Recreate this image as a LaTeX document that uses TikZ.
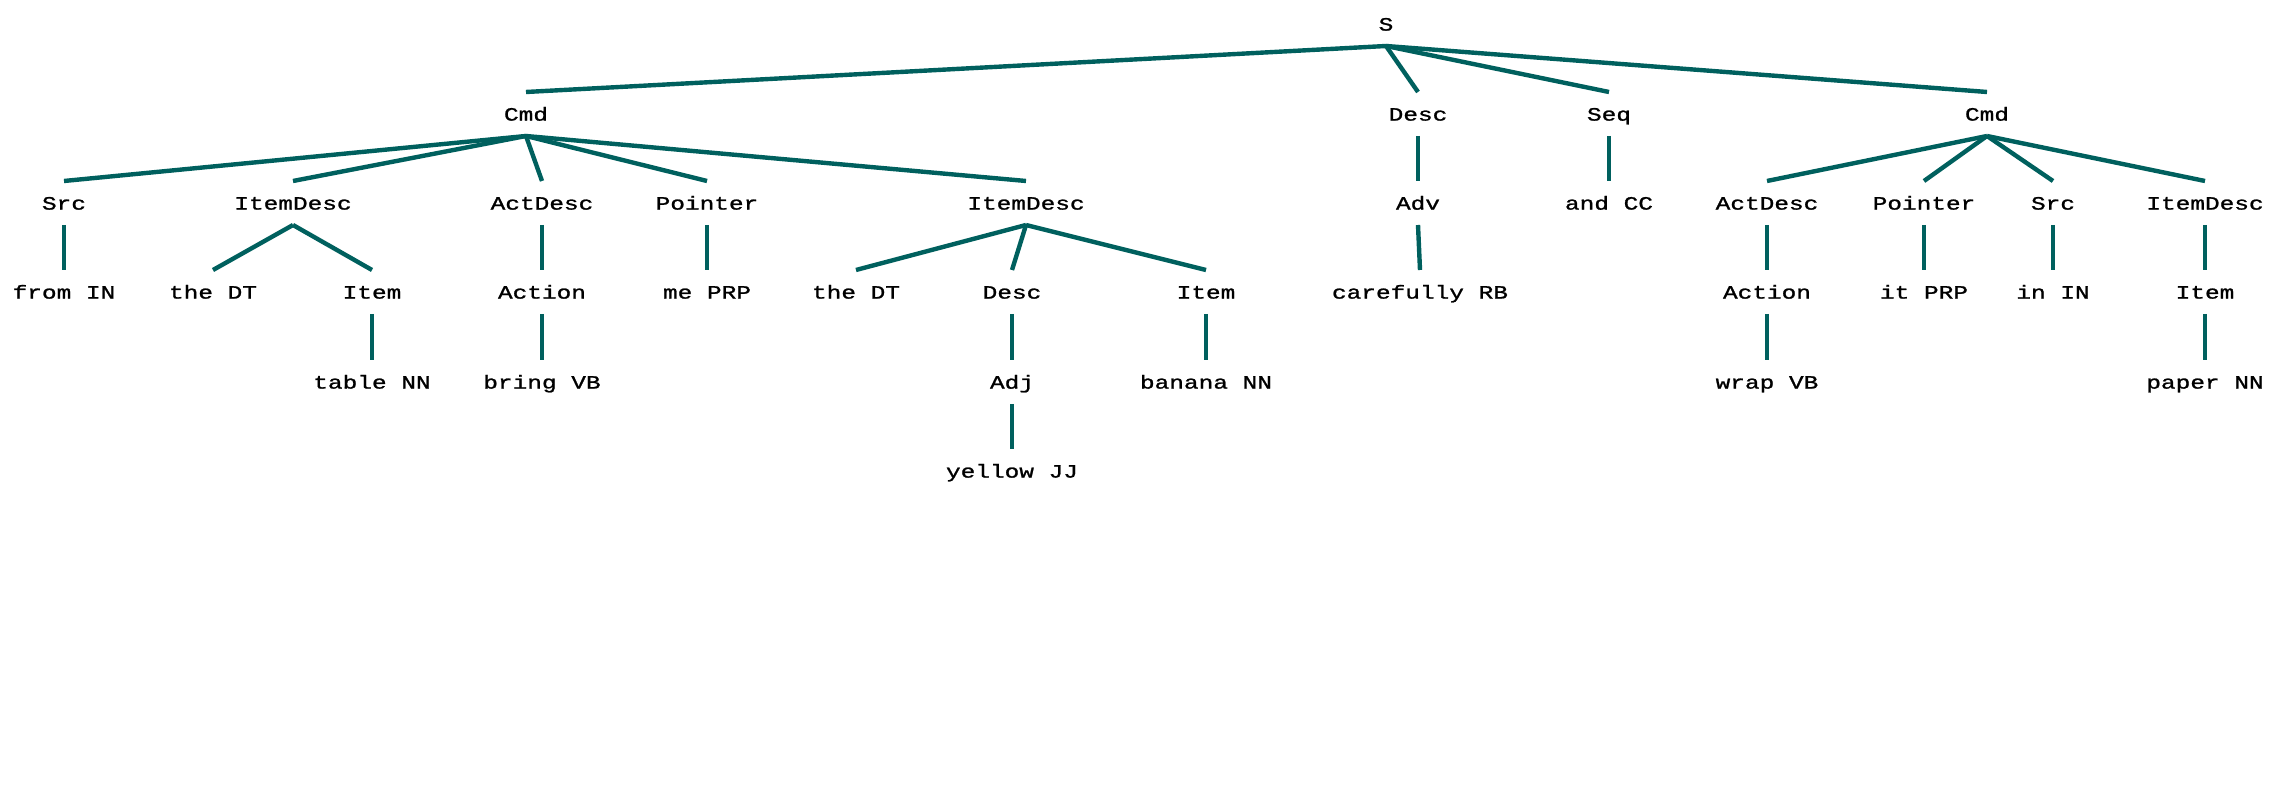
\documentclass[tikz,border=0pt]{standalone}
\usepackage{fontspec}
\newfontfamily\pixfont[FakeStretch=1.3,FakeBold=1.2]{Liberation Mono}
\definecolor{edge}{RGB}{0,96,94}
\tikzset{
  lbl/.style={inner sep=0pt, text height=5.6pt, text depth=0pt, font=\pixfont\fontsize{9.4pt}{10pt}\selectfont, text=black},
  br/.style={draw=edge, line width=2.2pt}
}
\newcommand{\br}[2]{\draw[br] ([yshift=-10.5pt]#1.center) -- ([yshift=11.5pt]#2.center);}
\begin{document}
\begin{tikzpicture}[x=0.5pt,y=-0.5pt]
\useasboundingbox (0,0) rectangle (2292,795);
% row 0
\node[lbl] (S) at (1386,25) {S};
% row 1
\node[lbl] (cmdA) at (526,115) {Cmd};
\node[lbl] (descA) at (1418,115) {Desc};
\node[lbl] (seq) at (1609,115) {Seq};
\node[lbl] (cmdB) at (1987,115) {Cmd};
% row 2
\node[lbl] (srcA) at (64,204) {Src};
\node[lbl] (idA) at (293,204) {ItemDesc};
\node[lbl] (adA) at (542,204) {ActDesc};
\node[lbl] (ptA) at (707,204) {Pointer};
\node[lbl] (idB) at (1026,204) {ItemDesc};
\node[lbl] (adv) at (1418,204) {Adv};
\node[lbl] (andcc) at (1609,204) {and CC};
\node[lbl] (adB) at (1767,204) {ActDesc};
\node[lbl] (ptB) at (1924,204) {Pointer};
\node[lbl] (srcB) at (2053,204) {Src};
\node[lbl] (idC) at (2205,204) {ItemDesc};
% row 3
\node[lbl] (fromin) at (64,293) {from IN};
\node[lbl] (dtA) at (213,293) {the DT};
\node[lbl] (itemA) at (372,293) {Item};
\node[lbl] (actA) at (542,293) {Action};
\node[lbl] (me) at (707,293) {me PRP};
\node[lbl] (dtB) at (856,293) {the DT};
\node[lbl] (descB) at (1012,293) {Desc};
\node[lbl] (itemB) at (1206,293) {Item};
\node[lbl] (carefully) at (1420,293) {carefully RB};
\node[lbl] (actB) at (1767,293) {Action};
\node[lbl] (it) at (1924,293) {it PRP};
\node[lbl] (inin) at (2053,293) {in IN};
\node[lbl] (itemC) at (2205,293) {Item};
% row 4
\node[lbl] (table) at (372,383) {table NN};
\node[lbl] (bring) at (542,383) {bring VB};
\node[lbl] (adj) at (1012,383) {Adj};
\node[lbl] (banana) at (1206,383) {banana NN};
\node[lbl] (wrap) at (1767,383) {wrap VB};
\node[lbl] (paper) at (2205,383) {paper NN};
% row 5
\node[lbl] (yellow) at (1012,472) {yellow JJ};
% edges
\br{S}{cmdA}\br{S}{descA}\br{S}{seq}\br{S}{cmdB}
\br{cmdA}{srcA}\br{cmdA}{idA}\br{cmdA}{adA}\br{cmdA}{ptA}\br{cmdA}{idB}
\br{descA}{adv}\br{seq}{andcc}
\br{cmdB}{adB}\br{cmdB}{ptB}\br{cmdB}{srcB}\br{cmdB}{idC}
\br{srcA}{fromin}\br{idA}{dtA}\br{idA}{itemA}\br{adA}{actA}\br{ptA}{me}
\br{idB}{dtB}\br{idB}{descB}\br{idB}{itemB}
\br{adv}{carefully}
\br{adB}{actB}\br{ptB}{it}\br{srcB}{inin}\br{idC}{itemC}
\br{itemA}{table}\br{actA}{bring}\br{descB}{adj}\br{itemB}{banana}
\br{actB}{wrap}\br{itemC}{paper}
\br{adj}{yellow}
\end{tikzpicture}
\end{document}
